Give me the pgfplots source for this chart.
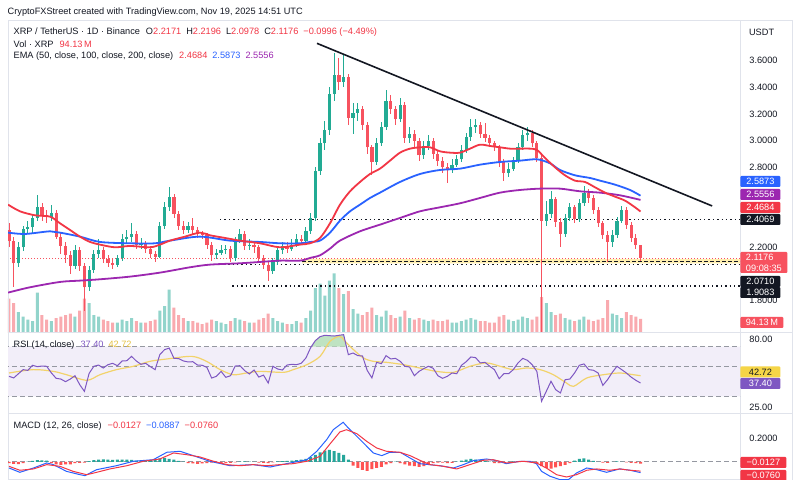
\documentclass[border=0pt]{standalone}
\usepackage{fontspec}
\setmainfont{Liberation Sans}
\usepackage{pgfplots}
\pgfplotsset{compat=1.18}
\usepackage{pgfplotstable}
\definecolor{upc}{HTML}{22AB94}
\definecolor{dnc}{HTML}{F7525F}
\definecolor{upv}{HTML}{92D4CB}
\definecolor{dnv}{HTML}{F9AAAF}
\definecolor{ema50}{HTML}{F23645}
\definecolor{ema100}{HTML}{2962FF}
\definecolor{ema200}{HTML}{9C27B0}
\definecolor{tvtext}{HTML}{131722}
\definecolor{tvred}{HTML}{F23645}
\definecolor{pricered}{HTML}{F7525F}
\definecolor{frame}{HTML}{E0E3EB}
\definecolor{rsiline}{HTML}{7E57C2}
\definecolor{rsima}{HTML}{F2D36B}
\definecolor{rsimatext}{HTML}{E5C043}
\definecolor{rsiband}{HTML}{F2EEF9}
\definecolor{rsigreen}{HTML}{BFE3C2}
\definecolor{bandgray}{HTML}{9598A1}
\definecolor{tagyellow}{HTML}{F5D547}
\definecolor{bandy}{HTML}{FFEFB0}
\definecolor{histup}{HTML}{26A69A}
\definecolor{histdn}{HTML}{FF5252}
\newcommand\tvf{\fontsize{4.6pt}{5.5pt}\selectfont}

% i = 2-day candle index, O H L C, volume in millions
\pgfplotstableread{
i o h l c v
0 2.33 2.38 2.20 2.25 230
1 2.25 2.28 1.90 2.08 200
2 2.08 2.24 2.05 2.20 140
3 2.20 2.36 2.17 2.34 110
4 2.34 2.40 2.30 2.35 90
5 2.35 2.45 2.31 2.42 80
6 2.42 2.59 2.40 2.50 270
7 2.50 2.53 2.40 2.44 120
8 2.44 2.48 2.38 2.43 90
9 2.43 2.52 2.40 2.46 80
10 2.46 2.48 2.26 2.28 100
11 2.28 2.31 2.15 2.21 110
12 2.21 2.24 2.08 2.14 120
13 2.14 2.17 2.00 2.06 130
14 2.06 2.22 2.04 2.18 110
15 2.18 2.20 2.02 2.06 150
16 2.06 2.08 1.72 1.90 230
17 1.90 2.06 1.87 2.03 200
18 2.03 2.18 2.01 2.15 120
19 2.15 2.26 2.12 2.18 110
20 2.18 2.20 2.08 2.11 90
21 2.11 2.14 2.05 2.08 80
22 2.08 2.11 2.04 2.07 70
23 2.07 2.14 2.05 2.12 70
24 2.12 2.30 2.10 2.26 90
25 2.26 2.33 2.23 2.28 80
26 2.28 2.38 2.24 2.30 100
27 2.30 2.32 2.19 2.22 80
28 2.22 2.27 2.19 2.23 70
29 2.23 2.25 2.16 2.19 70
30 2.19 2.21 2.12 2.15 80
31 2.15 2.17 2.09 2.13 90
32 2.13 2.39 2.12 2.36 150
33 2.36 2.54 2.34 2.50 180
34 2.50 2.65 2.47 2.58 290
35 2.58 2.60 2.42 2.45 170
36 2.45 2.47 2.33 2.36 120
37 2.36 2.40 2.30 2.33 100
38 2.33 2.39 2.31 2.36 80
39 2.36 2.42 2.30 2.33 80
40 2.33 2.35 2.27 2.30 70
41 2.30 2.32 2.26 2.29 60
42 2.29 2.31 2.19 2.22 70
43 2.22 2.24 2.10 2.14 90
44 2.14 2.19 2.11 2.16 80
45 2.16 2.22 2.14 2.18 70
46 2.18 2.22 2.15 2.19 60
47 2.19 2.21 2.09 2.12 80
48 2.12 2.28 2.10 2.25 100
49 2.25 2.34 2.23 2.30 90
50 2.30 2.32 2.18 2.21 80
51 2.21 2.26 2.18 2.22 70
52 2.22 2.25 2.16 2.20 70
53 2.20 2.22 2.09 2.12 90
54 2.12 2.14 2.04 2.07 100
55 2.07 2.09 1.95 2.02 130
56 2.02 2.12 2.00 2.09 100
57 2.09 2.20 2.07 2.18 80
58 2.18 2.24 2.15 2.21 70
59 2.21 2.24 2.16 2.19 60
60 2.19 2.26 2.17 2.22 60
61 2.22 2.30 2.20 2.26 80
62 2.26 2.29 2.22 2.25 70
63 2.25 2.35 2.23 2.32 100
64 2.32 2.46 2.30 2.42 150
65 2.42 2.80 2.40 2.77 300
66 2.77 3.02 2.74 2.98 330
67 2.98 3.15 2.93 3.08 250
68 3.08 3.40 3.04 3.35 350
69 3.35 3.66 3.30 3.49 400
70 3.49 3.62 3.38 3.44 300
71 3.44 3.64 3.40 3.48 260
72 3.48 3.50 3.12 3.17 280
73 3.17 3.28 3.05 3.21 160
74 3.21 3.28 3.15 3.24 130
75 3.24 3.26 3.08 3.12 120
76 3.12 3.14 2.90 2.95 140
77 2.95 2.97 2.74 2.84 170
78 2.84 3.02 2.82 2.98 120
79 2.98 3.14 2.96 3.10 110
80 3.10 3.38 3.08 3.30 150
81 3.30 3.34 3.20 3.24 120
82 3.24 3.26 3.12 3.16 100
83 3.16 3.32 3.14 3.27 110
84 3.27 3.29 2.98 3.02 150
85 3.02 3.10 2.98 3.05 100
86 3.05 3.08 2.95 3.00 90
87 3.00 3.02 2.85 2.89 100
88 2.89 3.00 2.86 2.96 90
89 2.96 3.04 2.93 3.00 80
90 3.00 3.02 2.86 2.90 90
91 2.90 2.92 2.81 2.85 80
92 2.85 2.88 2.76 2.80 80
93 2.80 2.83 2.68 2.79 90
94 2.79 2.86 2.76 2.82 70
95 2.82 2.89 2.80 2.86 70
96 2.86 2.97 2.84 2.93 80
97 2.93 3.06 2.91 3.03 90
98 3.03 3.16 3.00 3.10 100
99 3.10 3.16 3.06 3.12 90
100 3.12 3.14 3.02 3.05 80
101 3.05 3.13 2.99 3.02 80
102 3.02 3.04 2.95 2.98 70
103 2.98 3.00 2.92 2.95 70
104 2.95 2.97 2.80 2.84 110
105 2.84 2.86 2.70 2.76 120
106 2.76 2.83 2.73 2.79 90
107 2.79 2.88 2.77 2.85 80
108 2.85 2.98 2.83 2.95 90
109 2.95 3.08 2.93 3.04 110
110 3.04 3.10 3.00 3.06 100
111 3.06 3.08 2.95 2.98 90
112 2.98 3.00 2.84 2.87 110
113 2.87 2.90 1.56 2.40 240
114 2.40 2.55 2.36 2.45 200
115 2.45 2.62 2.42 2.56 140
116 2.56 2.58 2.35 2.39 120
117 2.39 2.42 2.20 2.30 130
118 2.30 2.45 2.28 2.42 100
119 2.42 2.53 2.40 2.50 90
120 2.50 2.52 2.38 2.41 80
121 2.41 2.56 2.39 2.53 90
122 2.53 2.66 2.51 2.61 110
123 2.61 2.64 2.53 2.57 90
124 2.57 2.59 2.45 2.48 80
125 2.48 2.50 2.35 2.38 90
126 2.38 2.40 2.26 2.29 100
127 2.29 2.32 2.09 2.24 220
128 2.24 2.33 2.20 2.29 130
129 2.29 2.43 2.27 2.40 120
130 2.40 2.51 2.38 2.48 100
131 2.48 2.50 2.34 2.37 140
132 2.37 2.39 2.24 2.27 120
133 2.27 2.30 2.19 2.2171 110
134 2.2171 2.2196 2.0978 2.1176 94.13
}\candles

\pgfplotstableread{
i v
0 46.1
1 44.8
2 48.2
3 51.5
4 50.9
5 55.0
6 53.9
7 54.4
8 54.2
9 48.8
10 44.5
11 43.9
12 41.8
13 43.9
14 46.6
15 39.4
16 34.0
17 48.5
18 54.2
19 55.2
20 52.8
21 55.5
22 56.6
23 54.7
24 58.5
25 58.7
26 62.2
27 58.5
28 55.8
29 56.6
30 53.9
31 51.5
32 63.6
33 67.6
34 68.9
35 60.6
36 60.4
37 58.5
38 57.7
39 57.9
40 55.2
41 55.0
42 53.3
43 44.7
44 46.1
45 50.1
46 45.3
47 46.6
48 54.4
49 54.7
50 50.7
51 48.0
52 51.2
53 45.5
54 47.1
55 40.7
56 54.2
57 52.0
58 51.2
59 55.2
60 55.8
61 55.5
62 56.6
63 60.9
64 69.2
65 74.9
66 78.1
67 79.2
68 78.9
69 78.6
70 79.2
71 79.7
72 63.6
73 64.9
74 62.8
75 62.5
76 50.9
77 44.8
78 57.4
79 56.3
80 62.8
81 60.1
82 60.6
83 58.2
84 54.2
85 53.6
86 46.6
87 50.1
88 52.3
89 54.2
90 52.6
91 46.6
92 44.5
93 46.1
94 48.8
95 48.2
96 55.0
97 57.9
98 61.7
99 61.2
100 56.9
101 57.4
102 54.2
103 51.5
104 44.2
105 48.2
106 48.2
107 51.5
108 56.9
109 60.6
110 59.0
111 55.5
112 50.1
113 26.0
114 34.0
115 42.1
116 35.3
117 32.7
118 43.4
119 43.9
120 48.8
121 55.0
122 56.1
123 51.5
124 51.0
125 48.8
126 38.8
127 43.4
128 49.3
129 54.2
130 51.5
131 48.8
132 45.5
133 42.9
134 40.7
}\rsitab

\pgfplotstableread{
i h
0 -0.010
1 -0.015
2 -0.017
3 -0.010
4 0.002
5 0.010
6 0.015
7 0.014
8 0.012
9 -0.010
10 -0.020
11 -0.025
12 -0.020
13 -0.020
14 -0.010
15 -0.008
16 -0.006
17 0.008
18 0.015
19 0.020
20 0.022
21 0.020
22 0.018
23 0.020
24 0.020
25 0.020
26 0.018
27 0.012
28 0.010
29 0.012
30 0.015
31 0.020
32 0.030
33 0.035
34 0.025
35 0.020
36 0.010
37 0.002
38 -0.010
39 -0.012
40 -0.015
41 -0.012
42 -0.010
43 -0.005
44 -0.005
45 -0.008
46 -0.010
47 -0.008
48 -0.004
49 0.003
50 0.005
51 0.004
52 0.001
53 -0.006
54 -0.008
55 -0.010
56 -0.004
57 0.005
58 0.008
59 0.010
60 0.012
61 0.015
62 0.020
63 0.025
64 0.040
65 0.060
66 0.080
67 0.095
68 0.100
69 0.090
70 0.075
71 0.060
72 0.020
73 -0.030
74 -0.050
75 -0.065
76 -0.075
77 -0.060
78 -0.050
79 -0.040
80 -0.020
81 -0.010
82 0.002
83 -0.010
84 -0.020
85 -0.030
86 -0.035
87 -0.040
88 -0.035
89 -0.020
90 -0.010
91 -0.005
92 -0.005
93 -0.010
94 -0.008
95 0.002
96 0.012
97 0.020
98 0.025
99 0.020
100 0.015
101 0.010
102 0.002
103 -0.010
104 -0.010
105 -0.006
106 0.001
107 0.005
108 0.006
109 0.004
110 0.001
111 -0.005
112 -0.015
113 -0.035
114 -0.050
115 -0.055
116 -0.045
117 -0.035
118 -0.025
119 -0.010
120 0.012
121 0.025
122 0.030
123 0.020
124 0.010
125 0.001
126 -0.005
127 -0.008
128 0.001
129 0.005
130 0.001
131 -0.004
132 -0.008
133 -0.010
134 -0.0127
}\histtab

\begin{document}
\begin{tikzpicture}
\useasboundingbox (0,0) rectangle (400pt,240pt);
\fill[white] (0,0) rectangle (400pt,240pt);

% ---------------- volume ----------------
\begin{axis}[at={(4pt,73.5pt)}, anchor=south west, scale only axis,
  width=366pt, height=50pt, xmin=-0.2122, xmax=155.1, ymin=0, ymax=670, hide axis]
\addplot[ybar, bar shift=0pt, bar width=1.5pt, fill=upv, draw=none]
  table[x expr={\thisrow{c}>=\thisrow{o} ? \thisrow{i} : nan}, y=v] \candles;
\addplot[ybar, bar shift=0pt, bar width=1.5pt, fill=dnv, draw=none]
  table[x expr={\thisrow{c}<\thisrow{o} ? \thisrow{i} : nan}, y=v] \candles;
\end{axis}

% ---------------- price ----------------
\begin{axis}[at={(4pt,73.5pt)}, anchor=south west, scale only axis,
  width=366pt, height=156pt, xmin=-0.2122, xmax=155.1, ymin=1.5571, ymax=3.8977,
  axis line style={draw=frame, line width=0.5pt},
  xtick=\empty, ytick={1.8,2.2,2.8,3.0,3.2,3.4,3.6},
  yticklabel pos=right, major tick length=0pt,
  yticklabel style={font=\tvf, text=tvtext, anchor=west, inner sep=0pt, xshift=4.5pt},
  /pgf/number format/.cd, fixed, fixed zerofill, precision=4, assume math mode=true]
% support band and levels
\addplot[draw=none, fill=bandy] coordinates {(62.2,2.079)(160,2.079)(160,2.112)(62.2,2.112)(62.2,2.079)};
\addplot[tvtext, line width=0.5pt, dash pattern=on 2pt off 1pt] coordinates {(62.2,2.096)(160,2.096)};
\addplot[pricered, line width=0.5pt, dash pattern=on 0.5pt off 1pt] coordinates {(-1,2.1176)(160,2.1176)};
\addplot[tvtext, line width=0.7pt, dash pattern=on 0.7pt off 1.5pt] coordinates {(44.77,2.4069)(160,2.4069)};
\addplot[tvtext, line width=0.7pt, dash pattern=on 0.7pt off 1.5pt] coordinates {(43.7,2.071)(160,2.071)};
\addplot[tvtext, line width=0.7pt, dash pattern=on 0.7pt off 1.5pt] coordinates {(47.4,1.9083)(160,1.9083)};
% candles: wicks
\addplot[draw=none, mark=none, error bars/.cd, y dir=both, y explicit, error mark=none,
  error bar style={draw=upc, line width=0.45pt}]
  table[x expr={\thisrow{c}>=\thisrow{o} ? \thisrow{i} : nan}, y=c,
        y error plus expr=\thisrow{h}-\thisrow{c}, y error minus expr=\thisrow{c}-\thisrow{l}] \candles;
\addplot[draw=none, mark=none, error bars/.cd, y dir=both, y explicit, error mark=none,
  error bar style={draw=dnc, line width=0.45pt}]
  table[x expr={\thisrow{c}<\thisrow{o} ? \thisrow{i} : nan}, y=c,
        y error plus expr=\thisrow{h}-\thisrow{c}, y error minus expr=\thisrow{c}-\thisrow{l}] \candles;
% candles: bodies
\addplot[draw=none, mark=none, error bars/.cd, y dir=plus, y explicit, error mark=none,
  error bar style={draw=upc, line width=1.6pt}]
  table[x expr={\thisrow{c}>=\thisrow{o} ? \thisrow{i} : nan}, y=o,
        y error plus expr=\thisrow{c}-\thisrow{o}] \candles;
\addplot[draw=none, mark=none, error bars/.cd, y dir=plus, y explicit, error mark=none,
  error bar style={draw=dnc, line width=1.6pt}]
  table[x expr={\thisrow{c}<\thisrow{o} ? \thisrow{i} : nan}, y=c,
        y error plus expr=\thisrow{o}-\thisrow{c}] \candles;
% EMA 200
\addplot[ema200, line width=0.9pt, smooth] coordinates {
(-0.2,1.86)(4.46,1.90)(10.82,1.94)(15.06,1.95)(19.31,1.96)(25.67,1.98)(32.04,2.01)(38.40,2.05)
(42.65,2.07)(49.01,2.08)(53.26,2.09)(57.50,2.10)(61.74,2.10)(63.87,2.12)(65.99,2.14)(68.11,2.19)
(70.23,2.25)(74.48,2.32)(78.72,2.37)(82.96,2.42)(87.21,2.47)(91.45,2.50)(95.69,2.53)(99.94,2.57)
(104.18,2.61)(108.42,2.63)(112.66,2.64)(116.91,2.64)(121.15,2.62)(125.40,2.61)(129.64,2.59)(133.99,2.5556)};
% EMA 100
\addplot[ema100, line width=0.9pt, smooth] coordinates {
(-0.2,2.31)(3.39,2.30)(8.70,2.32)(10.82,2.31)(15.06,2.28)(19.31,2.24)(25.67,2.23)(30.98,2.23)
(34.16,2.25)(40.53,2.28)(46.89,2.25)(53.26,2.24)(57.50,2.23)(61.74,2.23)(63.87,2.24)(65.99,2.25)
(68.11,2.31)(70.23,2.40)(72.36,2.47)(74.48,2.52)(76.60,2.57)(78.72,2.61)(82.96,2.69)(87.21,2.75)
(91.45,2.78)(95.69,2.79)(99.94,2.82)(104.18,2.84)(108.42,2.85)(112.03,2.86)(114.79,2.83)(116.91,2.78)
(120.09,2.74)(123.27,2.72)(125.40,2.70)(128.58,2.67)(131.76,2.63)(133.99,2.5873)};
% EMA 50
\addplot[ema50, line width=0.9pt, smooth] coordinates {
(-0.2,2.52)(2.33,2.47)(5.52,2.44)(8.70,2.43)(10.82,2.38)(12.94,2.33)(15.06,2.28)(17.19,2.24)
(19.31,2.22)(22.49,2.20)(25.67,2.21)(29.92,2.20)(32.04,2.22)(34.16,2.25)(37.34,2.28)(40.53,2.31)
(42.65,2.29)(45.83,2.27)(49.01,2.25)(53.26,2.23)(57.50,2.20)(61.74,2.22)(63.87,2.23)(65.99,2.27)
(68.11,2.38)(70.23,2.52)(72.36,2.62)(74.48,2.69)(76.60,2.75)(78.72,2.79)(80.84,2.85)(82.96,2.91)
(85.09,2.94)(87.21,2.95)(89.33,2.95)(91.45,2.92)(93.57,2.91)(95.69,2.91)(97.82,2.94)(99.94,2.97)
(102.06,2.96)(104.18,2.95)(106.30,2.94)(108.42,2.94)(110.55,2.94)(112.03,2.93)(113.73,2.87)(115.85,2.80)
(117.97,2.74)(120.09,2.70)(122.21,2.69)(124.34,2.65)(126.46,2.61)(128.58,2.58)(130.70,2.55)(132.82,2.50)(133.99,2.4684)};
% descending trend line
\addplot[tvtext, line width=0.8pt] coordinates {(65.35,3.73)(149.2,2.51)};
\end{axis}

% ---------------- RSI ----------------
\begin{axis}[at={(4pt,33pt)}, anchor=south west, scale only axis,
  width=366pt, height=40.5pt, xmin=-0.2122, xmax=155.1, ymin=15.73, ymax=81.05,
  axis line style={draw=frame, line width=0.5pt},
  xtick=\empty, ytick={25,80}, yticklabel pos=right, major tick length=0pt,
  yticklabel style={font=\tvf, text=tvtext, anchor=west, inner sep=0pt, xshift=4.5pt, yshift=-2.5pt},
  /pgf/number format/.cd, fixed, fixed zerofill, precision=2, assume math mode=true]
\addplot[draw=none, fill=rsiband] coordinates {(-1,30)(160,30)(160,70)(-1,70)(-1,30)};
\addplot[bandgray, line width=0.5pt, dash pattern=on 2.5pt off 1.5pt] coordinates {(-1,70)(160,70)};
\addplot[bandgray, line width=0.5pt, dash pattern=on 2.5pt off 1.5pt] coordinates {(-1,54.4)(160,54.4)};
\addplot[bandgray, line width=0.5pt, dash pattern=on 2.5pt off 1.5pt] coordinates {(-1,30)(160,30)};
% overbought area (RSI above 70)
\addplot[draw=none, fill=rsigreen] coordinates {
(64.14,70)(65,74.9)(66,78.1)(67,79.2)(68,78.9)(69,78.6)(70,79.2)(71,79.7)(71.6,70)(64.14,70)};
\addplot[rsima, line width=0.6pt, smooth] coordinates {
(0,48.8)(5.2,51.5)(9.4,50.1)(12.2,47.4)(16.5,42.9)(19.3,47.4)(22.8,51.5)(26.4,54.2)(29.9,58.2)
(33.5,60.1)(38.8,62.2)(41.9,58.2)(44.8,51.5)(47.6,47.4)(50.4,48.8)(53.3,50.1)(58.2,49.3)(60.3,51.5)
(63.2,55.5)(66.0,62.2)(68.1,74.3)(70.2,78.4)(71.3,74.3)(73.1,67.6)(75.2,60.9)(77.3,58.2)(80.1,57.4)
(83.7,55.5)(87.2,52.8)(90.7,50.1)(94.3,49.3)(97.8,54.2)(101.3,56.9)(104.2,54.2)(107.0,51.5)(109.8,52.8)
(112.7,51.5)(115.5,47.4)(118.3,40.7)(119.8,38.0)(122.6,44.8)(126.1,47.4)(129.6,48.8)(132.5,47.4)(134,46.6)};
\addplot[rsiline, line width=0.5pt] table[x=i, y=v] \rsitab;
\end{axis}

% ---------------- MACD ----------------
\begin{axis}[at={(4pt,0pt)}, anchor=south west, scale only axis,
  width=366pt, height=33pt, xmin=-0.2122, xmax=155.1, ymin=-0.15, ymax=0.4,
  axis line style={draw=frame, line width=0.5pt},
  xtick=\empty, ytick={0.2}, yticklabel pos=right, major tick length=0pt,
  yticklabel style={font=\tvf, text=tvtext, anchor=west, inner sep=0pt, xshift=4.5pt},
  /pgf/number format/.cd, fixed, fixed zerofill, precision=4, assume math mode=true]
\addplot[bandgray, line width=0.5pt, dash pattern=on 2.5pt off 1.5pt] coordinates {(-1,0)(160,0)};
\addplot[ybar, bar shift=0pt, bar width=1.5pt, fill=histup, draw=none]
  table[x expr={\thisrow{h}>=0 ? \thisrow{i} : nan}, y=h] \histtab;
\addplot[ybar, bar shift=0pt, bar width=1.5pt, fill=histdn, draw=none]
  table[x expr={\thisrow{h}<0 ? \thisrow{i} : nan}, y=h] \histtab;
\addplot[ema100, line width=0.5pt] coordinates {
(0,-0.05)(2.3,-0.086)(5.2,-0.05)(8,-0.008)(9.4,-0.022)(12.2,-0.078)(15.1,-0.106)(16.1,-0.114)
(18.6,-0.064)(22.8,-0.031)(26.4,0.006)(30.6,0.019)(33.5,0.081)(36.3,0.089)(39.1,0.053)(42.6,0.006)
(46.9,-0.031)(51.8,-0.022)(55.4,-0.042)(58.9,-0.014)(63.2,0.019)(65.3,0.089)(67.4,0.186)(68.8,0.269)
(70.9,0.331)(72.0,0.283)(73.8,0.214)(75.9,0.131)(77.3,0.075)(79.1,0.053)(80.8,0.081)(83.0,0.081)
(85.1,0.033)(87.2,-0.014)(91.4,-0.031)(94.3,-0.05)(96.4,-0.022)(98.5,0.011)(101.3,0.025)(103.5,0.011)
(105.5,-0.014)(108.4,0.006)(110.5,0.006)(111.9,-0.014)(113.0,-0.078)(114.8,-0.119)(116.9,-0.147)
(118.7,-0.147)(120.4,-0.092)(122.6,-0.05)(124.7,-0.064)(126.8,-0.086)(129.6,-0.058)(131.8,-0.069)(134,-0.0887)};
\addplot[tvred, line width=0.5pt] coordinates {
(0,-0.036)(2.3,-0.069)(5.2,-0.058)(8,-0.022)(10.8,-0.036)(13.6,-0.078)(16.5,-0.106)(18.6,-0.086)
(21.4,-0.058)(25,-0.031)(28.5,0.006)(32,0.025)(34.9,0.075)(37.7,0.061)(40.5,0.042)(43.4,0.006)
(46.2,-0.022)(49,-0.031)(51.8,-0.022)(54.7,-0.031)(57.5,-0.022)(60.3,-0.014)(63.2,0.006)(66,0.047)
(68.1,0.15)(70.2,0.25)(71.6,0.269)(73.8,0.236)(75.9,0.172)(78,0.117)(80.1,0.089)(82.9,0.081)
(85.1,0.053)(87.2,0.014)(89.3,-0.022)(92.2,-0.036)(95,-0.058)(97.8,-0.022)(100.6,0.014)(102.7,0.019)
(105.6,-0.008)(109.1,0.006)(111.9,-0.008)(114,-0.05)(116.2,-0.106)(118.3,-0.125)(120.4,-0.106)
(122.6,-0.069)(124.7,-0.058)(127.5,-0.069)(129.6,-0.058)(131.8,-0.069)(134,-0.076)};
\end{axis}

% ---------------- overlay: frame, texts, price tags (pixel grid) ----------------
\begin{scope}[x=0.5pt, y=-0.5pt, shift={(0pt,240pt)},
  tag/.style={anchor=west, inner sep=0pt, minimum width=20pt, minimum height=5.5pt,
              text=white, font=\tvf, rounded corners=0.5pt},
  lab/.style={anchor=west, inner sep=0pt, font=\tvf, text=tvtext}]
\draw[frame, line width=0.5pt] (8,21) -- (792,21) -- (792,480);
\draw[frame, line width=0.5pt] (740,333) -- (792,333);
\draw[frame, line width=0.5pt] (740,414) -- (792,414);
\node[lab] at (7.3,12) {CryptoFXStreet created with TradingView.com, Nov 19, 2025 14:51 UTC};
\node[lab] at (13.3,32.3) {XRP / TetherUS · 1D · Binance\hspace{3pt}O\textcolor{tvred}{2.2171}\hspace{2.5pt}H\textcolor{tvred}{2.2196}\hspace{2.5pt}L\textcolor{tvred}{2.0978}\hspace{2.5pt}C\textcolor{tvred}{2.1176}\hspace{2.5pt}\textcolor{tvred}{−0.0996 (−4.49\%)}};
\node[lab] at (13.3,44.3) {Vol · XRP\hspace{3pt}\textcolor{tvred}{94.13\,M}};
\node[lab] at (13.3,56.5) {EMA (50, close, 100, close, 200, close)\hspace{3pt}\textcolor{ema50}{2.4684}\hspace{2.5pt}\textcolor{ema100}{2.5873}\hspace{2.5pt}\textcolor{ema200}{2.5556}};
\node[lab] at (13.3,345.5) {RSI (14, close)\hspace{3pt}\textcolor{rsiline}{37.40}\hspace{2.5pt}\textcolor{rsimatext}{42.72}};
\node[lab] at (13.3,426.5) {MACD (12, 26, close)\hspace{3pt}\textcolor{tvred}{−0.0127}\hspace{2.5pt}\textcolor{ema100}{−0.0887}\hspace{2.5pt}\textcolor{tvred}{−0.0760}};
\node[lab] at (748.7,32.7) {USDT};
\node[tag, fill=ema100] at (740,181.5) {2.5873};
\node[tag, fill=ema200] at (740,194.5) {2.5556};
\node[tag, fill=ema50] at (740,207.5) {2.4684};
\node[tag, fill=tvtext] at (740,219.5) {2.4069};
\node[tag, fill=pricered, minimum width=23.5pt, minimum height=10.5pt, align=left] at (740,262.5) {2.1176\\09:08:35};
\node[tag, fill=tvtext] at (740,281.5) {2.0710};
\node[tag, fill=tvtext] at (740,292.5) {1.9083};
\node[tag, fill=pricered, minimum width=21.5pt] at (740,322.5) {94.13\,M};
\node[tag, fill=tagyellow, text=tvtext] at (740,372) {42.72};
\node[tag, fill=rsiline] at (740,383.5) {37.40};
\node[tag, fill=tvred, minimum width=23pt] at (740,462.5) {−0.0127};
\node[tag, fill=tvred, minimum width=23pt] at (740,475.5) {−0.0760};
\end{scope}
\end{tikzpicture}
\end{document}
